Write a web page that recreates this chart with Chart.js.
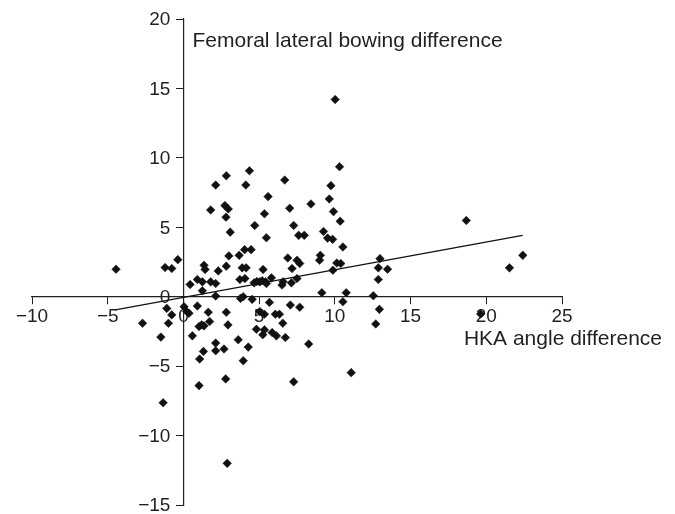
<!DOCTYPE html>
<html>
<head>
<meta charset="utf-8">
<script src="https://cdn.jsdelivr.net/npm/chart.js@4/dist/chart.umd.min.js"></script>
<style>
  html, body { margin: 0; padding: 0; background: #fff; }
  #wrap { width: 675px; height: 514px; }
</style>
</head>
<body>
<div id="wrap"><canvas id="scatter" width="675" height="514"></canvas></div>
<script>
// HKA angle difference (x) vs femoral lateral bowing difference (y)
const hkaDiff = [
  -4.45, -1.21, -0.77, -0.37, 0.44, 0.92, 1.25, 1.36, 1.43, 1.25,
  1.8, 2.13, 2.3, 1.8, 2.13, 2.83, 2.74, 2.96, 2.81, 3.09,
  2.83, 3.0, 3.68, 4.04, 4.47, 4.36, 4.12, 4.71, 3.88, 4.14,
  3.73, 4.06, 4.67, 5.04, 5.42, 5.48, 5.26, 5.81, 5.35, 5.59,
  5.48, 6.51, 6.58, 7.13, 7.5, 6.89, 7.17, 7.5, 7.68, 6.69,
  7.02, 7.28, 7.61, 7.98, 8.42, 8.99, 9.04, 9.25, 9.14, 9.63,
  9.74, 9.91, 9.52, 9.85, 10.02, 10.31, 10.35, 10.53, 9.87, 10.13,
  10.39, 10.75, 12.98, 12.87, 13.48, 12.87, 12.54, 18.68, 21.53, 22.41,
  4.85, 5.2,
  12.94, 12.7, 19.63, 11.08,
  -2.7, -1.49, -1.34, -1.1, -0.77, -0.99,
  0.04, 0.22, 0.37, 0.92, 0.59, 1.03, 1.21, 1.36, 1.64, 1.73, 1.32, 1.07, 1.03,
  2.13, 2.13, 2.13, 2.68, 2.83, 2.94, 2.79, 2.89,
  3.62, 3.95, 4.28, 3.77, 3.95, 4.54,
  4.82, 5.04, 5.35, 5.35, 5.24, 5.68, 5.86, 6.07, 6.34, 6.14, 6.56, 6.73,
  7.06, 7.68, 7.28, 8.27, 10.53
];
const bowingDiff = [
  1.98, 2.1, 2.03, 2.67, 0.88, 1.24, 1.07, 2.27, 1.96, 0.43,
  1.07, 0.95, 1.86, 6.25, 8.04, 8.71, 6.56, 6.32, 5.73, 4.65,
  2.2, 2.94, 2.98, 3.39, 3.39, 9.07, 8.04, 5.13, 2.08, 2.08,
  1.24, 1.31, 1.0, 1.07, 1.07, 0.95, 1.96, 1.36, 5.97, 7.21,
  4.25, 0.84, 1.07, 1.0, 1.31, 2.79, 2.03, 2.63, 2.39, 8.4,
  6.37, 5.13, 4.42, 4.42, 6.68, 2.63, 2.98, 4.7, 0.29, 7.04,
  8.0, 6.13, 4.22, 4.13, 14.2, 9.36, 5.44, 3.58, 1.91, 2.43,
  2.39, 0.29, 2.74, 2.08, 1.98, 1.24, 0.07, 5.49, 2.08, 2.98,
  1.1, 1.15,
  -0.91, -1.96, -1.24, -5.47,
  -1.91, -2.91, -7.64, -0.84, -1.31, -1.91,
  -0.72, -1.07, -1.19, -0.67, -2.82, -2.15, -2.03, -2.1, -1.12, -1.79, -3.94, -4.49, -6.4,
  0.05, -3.34, -3.89, -3.77, -1.12, -2.03, -5.92, -12.0,
  -3.1, -4.61, -3.63, -0.12, 0.0, -0.19,
  -2.34, -1.07, -1.26, -2.39, -2.74, -0.41, -2.58, -1.26, -1.26, -2.82, -1.91, -2.94,
  -0.6, -0.76, -6.13, -3.41, -0.36
];

// linear trend line end points
const trendX = [-4.5, 22.4];
const trendY = [-0.95, 4.42];

const xTitle = 'HKA angle difference';
const yTitle = 'Femoral lateral bowing difference';

const textColor = '#231f20';
const fontFamily = '"Liberation Sans", Arial, sans-serif';
const tickFont = { family: 'Liberation Sans, Arial, sans-serif', size: 19, lineHeight: 1 };

const points = hkaDiff.map((x, i) => ({ x: x, y: bowingDiff[i] }));
const trend = trendX.map((x, i) => ({ x: x, y: trendY[i] }));

const minus = v => String(v).replace('-', '\u2212');
const noPad = scale => {
  scale.paddingLeft = 0;
  scale.paddingRight = 0;
  scale.paddingTop = 0;
  scale.paddingBottom = 0;
};

// y tick labels (the centred axis puts them on the axis line) and the axis titles
const axisText = {
  id: 'axisText',
  afterDraw(chart) {
    const ctx = chart.ctx;
    const xs = chart.scales.x;
    const ys = chart.scales.y;
    const axisX = xs.getPixelForValue(0);
    ctx.save();
    ctx.fillStyle = textColor;
    ctx.font = '19px ' + fontFamily;
    ctx.textAlign = 'right';
    ctx.textBaseline = 'middle';
    ys.ticks.forEach(t => {
      ctx.fillText(minus(t.value), axisX - 13, ys.getPixelForValue(t.value) + 1);
    });
    ctx.font = '21px ' + fontFamily;
    ctx.textBaseline = 'alphabetic';
    ctx.textAlign = 'left';
    ctx.fillText(yTitle, 192.5, 46.5);
    ctx.textAlign = 'right';
    ctx.fillText(xTitle, 662, 345);
    ctx.restore();
  }
};

new Chart(document.getElementById('scatter'), {
  type: 'scatter',
  data: {
    datasets: [
      {
        data: points,
        pointStyle: 'rectRot',
        pointRadius: 4.3,
        backgroundColor: '#111',
        borderColor: '#111',
        borderWidth: 0.5
      },
      {
        type: 'line',
        data: trend,
        borderColor: '#111',
        borderWidth: 1.3,
        pointRadius: 0,
        fill: false
      }
    ]
  },
  options: {
    responsive: false,
    animation: false,
    layout: { padding: { left: 32, right: 113, top: 19, bottom: 9 } },
    plugins: {
      legend: { display: false },
      tooltip: { enabled: false }
    },
    scales: {
      x: {
        type: 'linear',
        min: -10,
        max: 25,
        position: { y: 0 },
        afterFit: noPad,
        ticks: { stepSize: 5, color: textColor, font: tickFont, padding: 4, callback: minus },
        grid: { drawOnChartArea: false, tickLength: 7, color: '#231f20' },
        border: { color: '#231f20', width: 1.2 }
      },
      y: {
        type: 'linear',
        min: -15,
        max: 20,
        position: { x: 0 },
        afterFit: noPad,
        ticks: { stepSize: 5, display: false },
        grid: { drawOnChartArea: false, tickLength: 7, color: '#231f20' },
        border: { color: '#231f20', width: 1.2 }
      }
    }
  },
  plugins: [axisText]
});
</script>
</body>
</html>
